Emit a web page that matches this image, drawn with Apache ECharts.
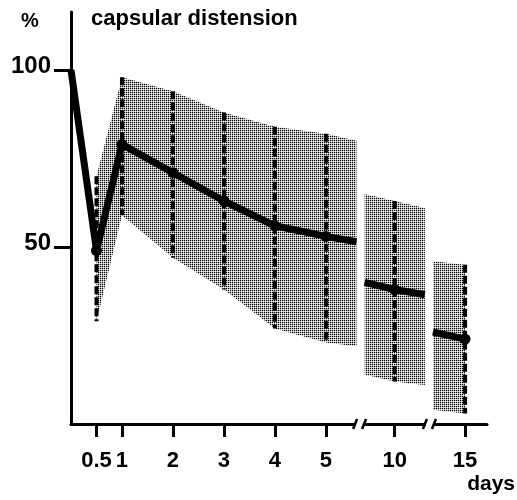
<!DOCTYPE html>
<html>
<head>
<meta charset="utf-8">
<script src="https://cdn.jsdelivr.net/npm/echarts@6/dist/echarts.min.js"></script>
<style>
html, body { margin: 0; padding: 0; background: #fff; }
#chart { width: 517px; height: 500px; }
</style>
</head>
<body>
<div id="chart"></div>
<script>
// measurement days and their place on the broken axis
var days = [0, 0.5, 1, 2, 3, 4, 5, 10, 15];
var dayPos = [0, 0.5, 1, 2, 3, 4, 5, 6.35, 7.73];
var dayLabels = ['', '0.5', '1', '2', '3', '4', '5', '10', '15'];

// capsular distension in %
var meanPct = [100, 49, 79, 71, 63, 56, 53, 38, 24];
var upperPct = [null, 70, 98, 94, 88, 84, 82, 63, 45];
var lowerPct = [null, 29, 59, 47, 38, 27, 23, 12, 3];

// free ends of each block (before / after a break)
var edgePos = [5.6, 5.76, 6.94, 7.1];
var edgeMean = [51.5, 40, 36.5, 26];
var edgeUpper = [80, 65, 61, 46];
var edgeLower = [22, 14, 11, 4];

// axis breaks
var breakPos = [5.67, 7.04];

var yTicks = [50, 100];

// blocks: list of [kind, index]  kind 'd' = day, 'e' = edge
var blocks = [
	[['d', 0], ['d', 1], ['d', 2], ['d', 3], ['d', 4], ['d', 5], ['d', 6], ['e', 0]],
	[['e', 1], ['d', 7], ['e', 2]],
	[['e', 3], ['d', 8]]
];

function pt(ref) {
	if (ref[0] === 'd') {
		var i = ref[1];
		return { x: dayPos[i], m: meanPct[i], u: upperPct[i], l: lowerPct[i], day: true };
	}
	var j = ref[1];
	return { x: edgePos[j], m: edgeMean[j], u: edgeUpper[j], l: edgeLower[j], day: false };
}

// halftone pattern
var pat = document.createElement('canvas');
pat.width = 2; pat.height = 2;
var pctx = pat.getContext('2d');
pctx.fillStyle = '#000';
pctx.fillRect(0, 0, 1, 1);
pctx.fillStyle = 'rgba(0,0,0,0.3)';
pctx.fillRect(1, 0, 1, 1);
pctx.fillRect(0, 1, 1, 1);

var font = '"Liberation Sans", Arial, sans-serif';

var lineSeries = blocks.map(function (b) {
	return {
		type: 'line',
		z: 6,
		data: b.map(function (r) {
			var p = pt(r);
			var show = p.day && p.x > 0;
			return { value: [p.x, p.m], symbol: show ? 'circle' : 'none' };
		}),
		symbolSize: 11,
		itemStyle: { color: '#000' },
		lineStyle: { color: '#000', width: 7, join: 'round' },
		silent: true,
		animation: false
	};
});

var myChart = echarts.init(document.getElementById('chart'));
myChart.setOption({
	animation: false,
	grid: { left: 71, right: 30, top: 12, bottom: 76, outerBoundsMode: 'none' },
	xAxis: {
		type: 'value',
		min: 0,
		max: 8.16,
		splitLine: { show: false },
		axisLine: { lineStyle: { color: '#000', width: 3 } },
		axisTick: {
			customValues: dayPos.slice(1),
			length: 13,
			lineStyle: { color: '#000', width: 3 }
		},
		axisLabel: {
			customValues: dayPos.slice(1),
			margin: 26,
			color: '#000',
			fontFamily: font,
			fontWeight: 'bold',
			fontSize: 22,
			formatter: function (v) {
				var i = dayPos.indexOf(v);
				return i >= 0 ? dayLabels[i] : '';
			}
		}
	},
	yAxis: {
		type: 'value',
		min: 0,
		max: 116.4,
		splitLine: { show: false },
		axisLine: { lineStyle: { color: '#000', width: 3 } },
		axisTick: {
			customValues: yTicks,
			length: 17,
			lineStyle: { color: '#000', width: 3 }
		},
		axisLabel: {
			customValues: yTicks,
			margin: 20,
			color: '#000',
			fontFamily: font,
			fontWeight: 'bold',
			fontSize: 24,
			verticalAlign: 'bottom',
			lineHeight: 8
		}
	},
	graphic: [
		{ type: 'text', left: 21, top: 11, style: { text: '%', font: 'bold 20px ' + font, fill: '#000' } },
		{ type: 'text', left: 91, top: 8, style: { text: 'capsular distension', font: 'bold 22px ' + font, fill: '#000' } },
		{ type: 'text', right: 2, top: 474, style: { text: 'days', font: 'bold 21px ' + font, fill: '#000' } }
	],
	series: [{
		// shaded spread
		type: 'custom',
		z: 2,
		silent: true,
		data: blocks.map(function (b, i) { return i; }),
		renderItem: function (params, api) {
			var b = blocks[params.dataIndex].map(pt).filter(function (p) { return p.u != null; });
			var pts = [];
			b.forEach(function (p) { pts.push(api.coord([p.x, p.u])); });
			b.slice().reverse().forEach(function (p) { pts.push(api.coord([p.x, p.l])); });
			return {
				type: 'polygon',
				shape: { points: pts },
				style: { fill: { image: pat, repeat: 'repeat' }, stroke: null }
			};
		}
	}, {
		// dashed range bars
		type: 'custom',
		z: 4,
		silent: true,
		data: days.map(function (d, i) { return i; }).filter(function (i) { return upperPct[i] != null; }),
		renderItem: function (params, api) {
			var i = api.value(0);
			var a = api.coord([dayPos[i], upperPct[i]]);
			var c = api.coord([dayPos[i], lowerPct[i]]);
			return {
				type: 'line',
				shape: { x1: a[0], y1: a[1], x2: c[0], y2: c[1] },
				style: { stroke: '#000', lineWidth: 4, lineDash: [8, 3] }
			};
		}
	}, {
		// axis breaks
		type: 'custom',
		z: 8,
		silent: true,
		clip: false,
		data: breakPos,
		renderItem: function (params, api) {
			var p = api.coord([api.value(0), 0]);
			return {
				type: 'group',
				children: [
					{ type: 'rect', shape: { x: p[0] - 4, y: p[1] - 4, width: 8, height: 8 }, style: { fill: '#fff' } },
					{ type: 'line', shape: { x1: p[0] - 7, y1: p[1] + 5, x2: p[0] - 3, y2: p[1] - 5 }, style: { stroke: '#000', lineWidth: 2.5 } },
					{ type: 'line', shape: { x1: p[0] + 2, y1: p[1] + 5, x2: p[0] + 6, y2: p[1] - 5 }, style: { stroke: '#000', lineWidth: 2.5 } }
				]
			};
		}
	}].concat(lineSeries)
});
window.addEventListener('resize', function () {
	myChart.resize();
});
</script>
</body>
</html>
